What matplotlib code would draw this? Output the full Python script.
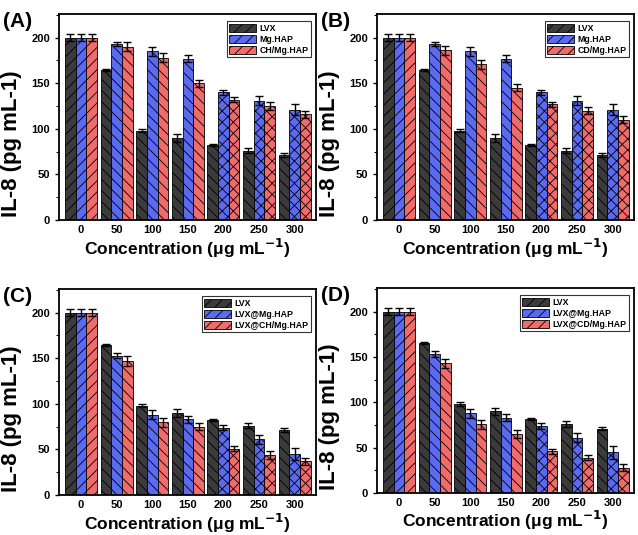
import matplotlib

matplotlib.use("Agg")
import matplotlib.pyplot as plt
import numpy as np

plt.rcParams.update({
    "font.family": ["Liberation Sans", "DejaVu Sans"],
    "font.weight": "bold",
    "hatch.linewidth": 0.6,
    "axes.linewidth": 1.3,
    "mathtext.default": "bf",
})

concentrations = ["0", "50", "100", "150", "200", "250", "300"]

lvx = [200, 165, 98, 90, 82, 76, 71]
lvx_err = [4, 1, 2, 4, 1, 3, 2]

mg_hap = [200, 193, 185, 177, 140, 131, 121]
mg_hap_err = [4, 2, 5, 4, 3, 5, 6]

ch_mg_hap = [200, 190, 178, 150, 132, 125, 116]
ch_mg_hap_err = [4, 5, 5, 4, 3, 4, 4]

cd_mg_hap = [200, 186, 171, 145, 127, 120, 110]
cd_mg_hap_err = [4, 5, 5, 4, 3, 4, 4]

lvx_mg_hap = [200, 153, 88, 83, 74, 61, 45]
lvx_mg_hap_err = [4, 3, 5, 4, 3, 5, 7]

lvx_ch_mg_hap = [200, 147, 80, 75, 51, 44, 37]
lvx_ch_mg_hap_err = [4, 5, 5, 4, 3, 4, 4]

lvx_cd_mg_hap = [200, 143, 76, 65, 46, 39, 28]
lvx_cd_mg_hap_err = [4, 5, 5, 4, 3, 3, 4]

colors = ["#3b3b3b", "#5a6af2", "#f26b6b"]
# hatch per group (0..300)
group_hatch = ["///", "\\\\\\", "\\\\\\", "\\\\\\", "xxx", "xxx", "xxx"]
lvx_hatch = ["///", "\\\\\\", "\\\\\\", "\\\\\\", "\\\\\\", "\\\\\\", "\\\\\\"]

panels = [
    ("(A)", (59, 14, 316, 220),
     [("LVX", lvx, lvx_err), ("Mg.HAP", mg_hap, mg_hap_err), ("CH/Mg.HAP", ch_mg_hap, ch_mg_hap_err)]),
    ("(B)", (377, 14, 634, 220),
     [("LVX", lvx, lvx_err), ("Mg.HAP", mg_hap, mg_hap_err), ("CD/Mg.HAP", cd_mg_hap, cd_mg_hap_err)]),
    ("(C)", (59, 289, 316, 495),
     [("LVX", lvx, lvx_err), ("LVX@Mg.HAP", lvx_mg_hap, lvx_mg_hap_err),
      ("LVX@CH/Mg.HAP", lvx_ch_mg_hap, lvx_ch_mg_hap_err)]),
    ("(D)", (377, 288, 634, 493),
     [("LVX", lvx, lvx_err), ("LVX@Mg.HAP", lvx_mg_hap, lvx_mg_hap_err),
      ("LVX@CD/Mg.HAP", lvx_cd_mg_hap, lvx_cd_mg_hap_err)]),
]

W, H = 638, 535
fig = plt.figure(figsize=(W / 100, H / 100), dpi=100)

x = np.arange(len(concentrations))
width = 0.3

for tag, (l, t, r, b), series in panels:
    ax = fig.add_axes([l / W, (H - b) / H, (r - l) / W, (b - t) / H])
    for i, (name, vals, errs) in enumerate(series):
        xs = x + (i - 1) * width
        hatches = lvx_hatch if i == 0 else group_hatch
        bars = ax.bar(xs, vals, width, color=colors[i], edgecolor="black",
                      linewidth=0.6, label=name)
        for bar, h in zip(bars, hatches):
            bar.set_hatch(h)
        ax.errorbar(xs, vals, yerr=errs, fmt="none", ecolor="black",
                    elinewidth=1.0, capsize=3, capthick=1.0)
    ax.set_xlim(-0.62, 6.6)
    ax.set_ylim(0, 226)
    ax.set_xticks(x)
    ax.set_xticklabels(concentrations)
    ax.set_yticks([0, 50, 100, 150, 200])
    ax.set_yticks(np.arange(25, 226, 50), minor=True)
    ax.tick_params(axis="both", labelsize=8, width=1.0, length=3)
    ax.tick_params(axis="y", which="minor", length=2, width=0.8)
    ax.tick_params(axis="x", length=0)
    ax.set_xlabel("Concentration (μg mL$^{-1}$)", fontsize=12.5, fontweight="bold")
    ax.xaxis.set_label_coords(0.5, -0.08)
    ax.set_ylabel("IL-8 (pg mL-1)", fontsize=16, fontweight="bold")
    ax.yaxis.set_label_coords(-0.143, 0.37)
    leg = ax.legend(loc="upper right", fontsize=6.3, frameon=True, fancybox=False,
                    edgecolor="black", borderpad=0.3, labelspacing=0.2,
                    handlelength=3.0, handleheight=1.1, handletextpad=0.4,
                    borderaxespad=0, bbox_to_anchor=(0.98, 0.965))
    leg.get_frame().set_linewidth(0.8)
    for patch in leg.get_patches():
        patch.set_hatch("///")
    fig.text((l - 56) / W, 1 - (t - 2) / H, tag, fontsize=15, fontweight="bold",
             ha="left", va="top")

fig.savefig("out.png", dpi=100)
plt.close(fig)
